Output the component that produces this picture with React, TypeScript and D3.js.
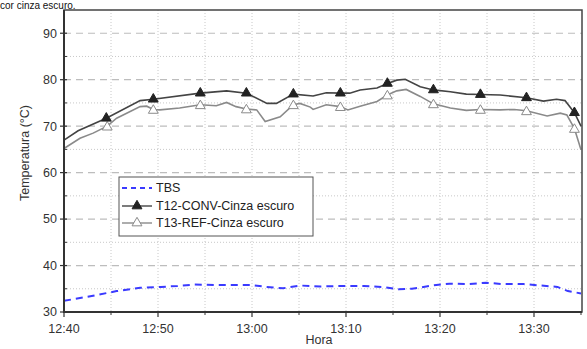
import React from "react";
import * as d3 from "d3";

// minutes after 12:40
const tbsT = [0, 3.1, 5.6, 8.1, 10.3, 12.1, 13.9, 16.4, 20.0, 21.5, 23.3, 25.1, 27.3, 29.4, 31.9, 33.8, 35.6, 37.0, 39.2, 41.0, 43.1, 44.9, 46.7, 48.9, 50.7, 52.5, 53.6, 55];
const tbsV = [32.4, 33.5, 34.5, 35.2, 35.4, 35.6, 35.9, 35.8, 35.8, 35.4, 35.1, 35.7, 35.5, 35.6, 35.6, 35.4, 34.9, 35.0, 35.7, 36.1, 36.0, 36.3, 36.0, 36.0, 35.7, 35.4, 34.5, 34.0];

const t12T = [0, 1.5, 4.5, 8.1, 9.5, 14.5, 17.3, 19.4, 21.6, 22.6, 24.4, 26.5, 27.9, 29.4, 30.4, 31.5, 33.3, 34.4, 35.4, 36.3, 37.9, 39.3, 41.1, 42.8, 44.3, 46.4, 49.2, 51.0, 52.4, 53.3, 54.3, 55];
const t12V = [67.0, 69.0, 71.7, 75.5, 75.8, 77.1, 77.6, 77.1, 74.9, 74.9, 76.9, 76.5, 77.2, 77.1, 77.1, 77.8, 78.2, 79.2, 79.9, 80.1, 78.5, 77.8, 77.4, 76.9, 76.8, 76.7, 76.1, 75.4, 75.8, 75.5, 72.9, 70.0];
const t12MarkT = [4.5, 9.5, 14.5, 19.4, 24.4, 29.4, 34.4, 39.3, 44.3, 49.2, 54.3];
const t12MarkV = [71.7, 75.8, 77.1, 77.1, 76.9, 77.1, 79.2, 77.8, 76.8, 76.1, 72.9];

const t13T = [0, 1.7, 3.1, 4.6, 5.6, 8.1, 8.8, 9.5, 10.2, 12.3, 14.5, 16.2, 17.3, 18.3, 19.4, 20.5, 21.4, 23.0, 24.4, 25.1, 26.2, 26.5, 27.9, 29.4, 30.2, 31.5, 33.3, 34.4, 35.4, 36.4, 37.9, 39.3, 41.1, 42.8, 44.3, 46.4, 47.9, 49.2, 51.4, 52.8, 53.5, 54.3, 55];
const t13V = [65.2, 67.4, 68.5, 70.0, 71.7, 74.2, 74.3, 73.6, 73.5, 73.9, 74.6, 74.4, 75.1, 74.2, 73.7, 73.5, 71.0, 72.0, 74.6, 74.9, 74.1, 73.6, 74.6, 74.2, 73.5, 74.3, 75.3, 76.7, 77.6, 77.9, 76.4, 74.8, 73.9, 73.4, 73.6, 73.5, 73.6, 73.3, 72.2, 72.8, 72.4, 69.5, 64.9];
const t13MarkT = [4.6, 9.5, 14.5, 19.4, 24.4, 29.4, 34.4, 39.3, 44.3, 49.2, 54.3];
const t13MarkV = [70.0, 73.6, 74.6, 73.7, 74.6, 74.2, 76.7, 74.8, 73.6, 73.3, 69.5];

const xTickMin = [0, 10, 20, 30, 40, 50];
const xTickLabels = ["12:40", "12:50", "13:00", "13:10", "13:20", "13:30"];
const yTicks = [30, 40, 50, 60, 70, 80, 90];
const legendLabels = ["TBS", "T12-CONV-Cinza escuro", "T13-REF-Cinza escuro"];

export default function App() {
  const W = 587, H = 349;
  const L = 64, R = 582, T = 10, B = 312;
  const x = d3.scaleLinear().domain([0, 55]).range([L, R - 1]);
  const y = d3.scaleLinear().domain([30, 95]).range([B, T]);
  const line = d3.line<[number, number]>().x(d => x(d[0])).y(d => y(d[1]));
  const zip = (a: number[], b: number[]) => a.map((v, i) => [v, b[i]] as [number, number]);
  const tri = d3.symbol().type(d3.symbolTriangle).size(42)();
  const font = "Arial, 'Liberation Sans', sans-serif";
  const minorX = d3.range(5, 55, 5);
  const majorY = [40, 50, 60, 70, 80, 90];
  const minorY = [35, 45, 55, 65, 75, 85];

  return (
    <svg width={W} height={H} style={{ position: "absolute", left: 0, top: 0, background: "#fff" }} fontFamily={font}>
      <text x={0} y={8.5} fontSize={10} fill="#111">cor cinza escuro.</text>
      {/* grid */}
      {minorX.map(t => (
        <line key={"vx" + t} x1={x(t)} x2={x(t)} y1={T} y2={B} stroke="#c8c8c8" strokeWidth={1} strokeDasharray="1,2" />
      ))}
      {minorY.map(v => (
        <line key={"my" + v} x1={L} x2={R} y1={y(v)} y2={y(v)} stroke="#c8c8c8" strokeWidth={1} strokeDasharray="1,2" />
      ))}
      {majorY.map(v => (
        <line key={"My" + v} x1={L} x2={R} y1={y(v)} y2={y(v)} stroke="#bdbdbd" strokeWidth={1.2} strokeDasharray="7,5" />
      ))}
      {/* series */}
      <path d={line(zip(tbsT, tbsV)) || ""} fill="none" stroke="#3a3aff" strokeWidth={2} strokeDasharray="7,5" />
      <path d={line(zip(t13T, t13V)) || ""} fill="none" stroke="#8a8a8a" strokeWidth={1.6} />
      <path d={line(zip(t12T, t12V)) || ""} fill="none" stroke="#444" strokeWidth={1.6} />
      {t13MarkT.map((t, i) => (
        <path key={"m13" + i} d={tri || ""} transform={`translate(${x(t)},${y(t13MarkV[i]) + 1})`} fill="#fff" stroke="#8a8a8a" strokeWidth={1} />
      ))}
      {t12MarkT.map((t, i) => (
        <path key={"m12" + i} d={tri || ""} transform={`translate(${x(t)},${y(t12MarkV[i])})`} fill="#222" stroke="#222" strokeWidth={1} />
      ))}
      {/* frame */}
      <rect x={L} y={T} width={R - L} height={B - T} fill="none" stroke="#444" strokeWidth={1.5} />
      <line x1={L} x2={L} y1={T} y2={B + 1} stroke="#333" strokeWidth={2} />
      <line x1={L - 1} x2={R} y1={B} y2={B} stroke="#333" strokeWidth={2} />
      {/* y ticks */}
      {yTicks.map(v => (
        <g key={"yt" + v}>
          <line x1={L - 4} x2={L + 3} y1={y(v)} y2={y(v)} stroke="#333" strokeWidth={1.2} />
          <text x={L - 7} y={y(v)} dy="0.35em" textAnchor="end" fontSize={12.5} fill="#333">{v}</text>
        </g>
      ))}
      {minorY.map(v => (
        <line key={"ymt" + v} x1={L} x2={L + 3} y1={y(v)} y2={y(v)} stroke="#333" strokeWidth={1} />
      ))}
      {/* x ticks */}
      {xTickMin.map((t, i) => (
        <g key={"xt" + t}>
          <line x1={x(t)} x2={x(t)} y1={B} y2={B + 5} stroke="#333" strokeWidth={1.2} />
          <text x={x(t)} y={B + 17} dy="0.35em" textAnchor="middle" fontSize={12.5} fill="#333">{xTickLabels[i]}</text>
        </g>
      ))}
      {[5, 15, 25, 35, 45, 55].map(t => (
        <line key={"xmt" + t} x1={x(t)} x2={x(t)} y1={B} y2={B + 3} stroke="#333" strokeWidth={1} />
      ))}
      <text x={(L + R) / 2 - 4} y={344} textAnchor="middle" fontSize={12.5} fill="#333">Hora</text>
      <text transform={`translate(29,153) rotate(-90)`} textAnchor="middle" fontSize={12.5} fill="#333">Temperatura (°C)</text>
      {/* legend */}
      <rect x={119} y={177} width={194} height={59} fill="#fff" stroke="#555" strokeWidth={1} />
      <line x1={122} x2={152} y1={188} y2={188} stroke="#3a3aff" strokeWidth={2} strokeDasharray="5,4" />
      <line x1={122} x2={152} y1={206} y2={206} stroke="#444" strokeWidth={1.4} />
      <path d={tri || ""} transform="translate(137,206)" fill="#222" stroke="#222" />
      <line x1={122} x2={152} y1={223} y2={223} stroke="#8a8a8a" strokeWidth={1.4} />
      <path d={tri || ""} transform="translate(137,223)" fill="#fff" stroke="#8a8a8a" />
      {legendLabels.map((s, i) => (
        <text key={s} x={156} y={[188, 206, 223][i]} dy="0.35em" fontSize={12.5} fill="#222">{s}</text>
      ))}
    </svg>
  );
}
